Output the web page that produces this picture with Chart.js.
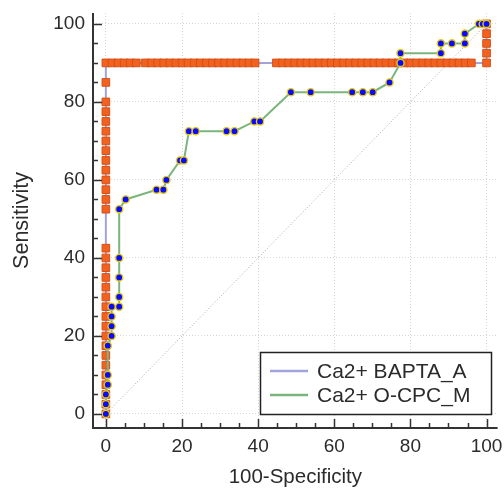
<!DOCTYPE html>
<html>
<head>
<meta charset="utf-8">
<script src="https://cdn.jsdelivr.net/npm/chart.js@4/dist/chart.umd.min.js"></script>
<style>
    html, body { margin: 0; padding: 0; background: #ffffff; }
    #wrap { width: 504px; height: 491px; }
</style>
</head>
<body>
<div id="wrap"><canvas id="roc" width="504" height="491"></canvas></div>
<script>
"use strict";

var seriesNames = ["Ca2+ BAPTA_A", "Ca2+ O-CPC_M"];
var axisTicks = [0, 20, 40, 60, 80, 100];

// Ca2+ BAPTA_A (orange squares)
var baptaX = [
    0, 0, 0, 0, 0, 0, 0, 0, 0, 0, 0, 0, 0, 0, 0, 0, 0, 0,
    0, 0, 0, 0, 0, 0, 0, 0, 0, 0, 0, 0, 0, 0,
    1.6, 3.2, 4.8, 6.4, 8.0, 10.4, 12.0, 13.6, 15.2, 16.8, 18.4, 20.0, 21.6, 23.2,
    24.8, 26.4, 28.0, 29.6, 31.2, 32.8, 34.4, 36.0, 37.6, 39.2, 44.8, 46.4, 48.0,
    49.6, 51.2, 52.8, 54.4, 56.0, 57.6, 59.2, 60.8, 62.4, 64.0, 65.6, 67.2, 68.8,
    70.4, 72.0, 73.6, 75.2, 76.8, 78.4, 80.0, 81.6, 83.2, 84.8, 86.4, 88.0, 89.6,
    91.2, 92.8, 94.4, 96.0, 100,
    100, 100, 100, 100
];
var baptaY = [
    0, 2.5, 5, 7.5, 10, 12.5, 15, 17.5, 20, 22.5, 25, 27.5, 30, 32.5, 35, 37.5, 40, 42.5,
    52.5, 55, 57.5, 60, 62.5, 65, 67.5, 70, 72.5, 75, 77.5, 80, 85, 90,
    90, 90, 90, 90, 90, 90, 90, 90, 90, 90, 90, 90, 90, 90,
    90, 90, 90, 90, 90, 90, 90, 90, 90, 90, 90, 90, 90,
    90, 90, 90, 90, 90, 90, 90, 90, 90, 90, 90, 90, 90,
    90, 90, 90, 90, 90, 90, 90, 90, 90, 90, 90, 90, 90,
    90, 90, 90, 90, 90,
    92.5, 95, 97.5, 100
];

// Ca2+ O-CPC_M (blue circles)
var ocpcX = [
    0, 0, 0, 0.5, 0.5, 0.5, 1.5, 1.5, 1.5, 1.5, 3.5, 3.5, 3.5, 3.5, 3.5,
    5.2, 13.3, 15.1, 15.9, 19.5, 20.5, 21.8, 23.6, 31.7, 33.8, 39, 40.5,
    48.6, 53.8, 64.7, 67.5, 70.1, 74.5, 77.4, 77.4, 88, 88, 90.9, 94.3, 94.3,
    98, 99, 100
];
var ocpcY = [
    0, 2.5, 5, 7.5, 10, 17.5, 20, 22.5, 25, 27.5, 27.5, 30, 35, 40, 52.5,
    55, 57.5, 57.5, 60, 65, 65, 72.5, 72.5, 72.5, 72.5, 75, 75,
    82.5, 82.5, 82.5, 82.5, 82.5, 85, 90, 92.5, 92.5, 95, 95, 95, 97.5,
    100, 100, 100
];

var fontFamily = "'Liberation Sans', Arial, sans-serif";
var textColor = "#2b2b2b";

function toPoints(xs, ys) {
    return xs.map(function (x, i) {
        return { x: x, y: ys[i] };
    });
}

// axis lines, inward major/minor ticks and the reference diagonal
var frame = {
    id: "frame",
    beforeDatasetsDraw: function (chart) {
        var ctx = chart.ctx;
        var xs = chart.scales.x;
        var ys = chart.scales.y;
        ctx.save();
        ctx.strokeStyle = "#a8a8a8";
        ctx.lineWidth = 1;
        ctx.setLineDash([1, 2]);
        ctx.beginPath();
        ctx.moveTo(xs.getPixelForValue(0), ys.getPixelForValue(0));
        ctx.lineTo(xs.getPixelForValue(100), ys.getPixelForValue(100));
        ctx.stroke();
        ctx.restore();
    },
    afterDraw: function (chart) {
        var ctx = chart.ctx;
        var area = chart.chartArea;
        var xs = chart.scales.x;
        var ys = chart.scales.y;
        ctx.save();
        ctx.strokeStyle = "#333333";
        ctx.lineWidth = 1.5;
        for (var v = 0; v <= 100; v += 5) {
            var len = v % 20 === 0 ? 9 : 5;
            var px = Math.round(xs.getPixelForValue(v)) + 0.5;
            var py = Math.round(ys.getPixelForValue(v)) + 0.5;
            ctx.beginPath();
            ctx.moveTo(px, area.bottom);
            ctx.lineTo(px, area.bottom - len);
            ctx.moveTo(area.left, py);
            ctx.lineTo(area.left + len, py);
            ctx.stroke();
        }
        ctx.lineWidth = 2;
        ctx.beginPath();
        ctx.moveTo(area.left, area.top);
        ctx.lineTo(area.left, area.bottom);
        ctx.lineTo(area.right, area.bottom);
        ctx.stroke();
        ctx.restore();
    }
};

// boxed legend in the lower right corner of the plot
var boxLegend = {
    id: "boxLegend",
    afterDraw: function (chart) {
        var ctx = chart.ctx;
        var colors = ["#a3a3dc", "#7cb57c"];
        ctx.save();
        ctx.fillStyle = "#ffffff";
        ctx.strokeStyle = "#222222";
        ctx.lineWidth = 1.5;
        ctx.fillRect(260, 352, 232, 63);
        ctx.strokeRect(260.5, 352.5, 231, 62);
        ctx.font = "21px " + fontFamily;
        ctx.textBaseline = "middle";
        ctx.textAlign = "left";
        seriesNames.forEach(function (name, i) {
            var y = 371 + i * 24;
            ctx.strokeStyle = colors[i];
            ctx.lineWidth = 2.5;
            ctx.beginPath();
            ctx.moveTo(270, y);
            ctx.lineTo(308, y);
            ctx.stroke();
            ctx.fillStyle = textColor;
            ctx.fillText(name, 317, y + 1);
        });
        ctx.restore();
    }
};

function fixedTicks(scale) {
    scale.ticks = axisTicks.map(function (v) {
        return { value: v };
    });
}

new Chart(document.getElementById("roc"), {
    type: "scatter",
    data: {
        datasets: [
            {
                label: seriesNames[1],
                data: toPoints(ocpcX, ocpcY),
                showLine: true,
                borderColor: "#7cb57c",
                borderWidth: 2,
                pointStyle: "circle",
                pointRadius: 3.6,
                pointBackgroundColor: "#0a0aff",
                pointBorderColor: "#e8cc10",
                pointBorderWidth: 1.4,
            },
            {
                label: seriesNames[0],
                data: toPoints(baptaX, baptaY),
                showLine: true,
                borderColor: "#a3a3dc",
                borderWidth: 2,
                pointStyle: "rect",
                pointRadius: 5.4,
                pointBackgroundColor: "#f2621e",
                pointBorderColor: "#d4501a",
                pointBorderWidth: 1,
            },
        ],
    },
    options: {
        responsive: false,
        animation: false,
        events: [],
        layout: {
            padding: { top: 13, right: 2, left: 0, bottom: 0 },
        },
        plugins: {
            legend: { display: false },
            tooltip: { enabled: false },
        },
        scales: {
            x: {
                type: "linear",
                min: -3.38,
                max: 102.9,
                afterBuildTicks: fixedTicks,
                afterFit: function (scale) {
                    scale.height = 63;
                    scale.paddingLeft = 0;
                    scale.paddingRight = 0;
                },
                grid: {
                    color: "#d6d6d6",
                    lineWidth: 1,
                    drawTicks: false,
                },
                border: { display: false, dash: [1, 2] },
                ticks: {
                    autoSkip: false,
                    maxRotation: 0,
                    padding: 7,
                    color: textColor,
                    font: { family: fontFamily, size: 19 },
                },
                title: {
                    display: true,
                    text: "100-Specificity",
                    color: textColor,
                    font: { family: fontFamily, size: 20.5 },
                    padding: { top: 0, bottom: 1 },
                },
            },
            y: {
                type: "linear",
                min: -3.6,
                max: 102.8,
                afterBuildTicks: fixedTicks,
                afterFit: function (scale) {
                    scale.width = 93;
                    scale.paddingTop = 0;
                    scale.paddingBottom = 0;
                },
                grid: {
                    color: "#d6d6d6",
                    lineWidth: 1,
                    drawTicks: false,
                },
                border: { display: false, dash: [1, 2] },
                ticks: {
                    autoSkip: false,
                    padding: 8,
                    color: textColor,
                    font: { family: fontFamily, size: 19 },
                },
                title: {
                    display: true,
                    text: "Sensitivity",
                    color: textColor,
                    font: { family: fontFamily, size: 21.5 },
                    padding: { top: 9, bottom: 0 },
                },
            },
        },
    },
    plugins: [frame, boxLegend],
});
</script>
</body>
</html>
